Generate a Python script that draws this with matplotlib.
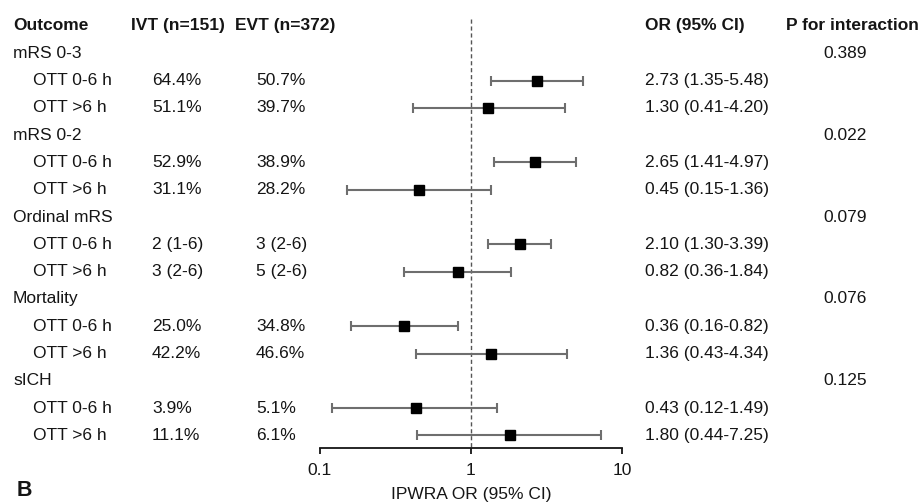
import matplotlib.pyplot as plt
import matplotlib.transforms as mtransforms

plt.rcParams['font.family'] = ['Liberation Sans', 'DejaVu Sans']

outcomes = ['mRS 0-3', 'mRS 0-2', 'Ordinal mRS', 'Mortality', 'sICH']
subgroups = ['OTT 0-6 h', 'OTT >6 h']
ivt_vals = ['64.4%', '51.1%', '52.9%', '31.1%', '2 (1-6)', '3 (2-6)',
            '25.0%', '42.2%', '3.9%', '11.1%']
evt_vals = ['50.7%', '39.7%', '38.9%', '28.2%', '3 (2-6)', '5 (2-6)',
            '34.8%', '46.6%', '5.1%', '6.1%']
or_est = [2.73, 1.30, 2.65, 0.45, 2.10, 0.82, 0.36, 1.36, 0.43, 1.80]
ci_low = [1.35, 0.41, 1.41, 0.15, 1.30, 0.36, 0.16, 0.43, 0.12, 0.44]
ci_high = [5.48, 4.20, 4.97, 1.36, 3.39, 1.84, 0.82, 4.34, 1.49, 7.25]
p_interaction = ['0.389', '0.022', '0.079', '0.076', '0.125']
xticks = [0.1, 1, 10]
xtick_labels = ['0.1', '1', '10']

W, H = 920, 504
TXT = '#151515'
FS = 12.5


def px(p):
    return p / W


def main():
    fig = plt.figure(figsize=(W / 100, H / 100), dpi=100)
    ax = fig.add_axes([px(320), 1 - 448 / H, px(622 - 320), 438 / H])
    ax.set_xscale('log')
    ax.set_xlim(0.1, 10)
    ax.set_ylim(15.46, -0.586)

    tr = mtransforms.blended_transform_factory(fig.transFigure, ax.transData)

    # header row
    kw = dict(transform=tr, fontsize=FS, fontweight='bold', color=TXT, va='center')
    ax.text(px(13), 0, 'Outcome', **kw)
    ax.text(px(131), 0, 'IVT (n=151)', **kw)
    ax.text(px(235), 0, 'EVT (n=372)', **kw)
    ax.text(px(645), 0, 'OR (95% CI)', **kw)
    ax.text(px(786), 0, 'P for interaction', **kw)

    kw = dict(transform=tr, fontsize=FS, color=TXT, va='center')
    rows = []
    for i, name in enumerate(outcomes):
        top = 1 + 3 * i
        ax.text(px(13), top, name, **kw)
        ax.text(px(845), top, p_interaction[i], ha='center', **kw)
        for j, sub in enumerate(subgroups):
            k = 2 * i + j
            r = top + 1 + j
            rows.append(r)
            ax.text(px(33), r, sub, **kw)
            ax.text(px(152), r, ivt_vals[k], **kw)
            ax.text(px(256), r, evt_vals[k], **kw)
            ax.text(px(645), r, f"{or_est[k]:.2f} ({ci_low[k]:.2f}-{ci_high[k]:.2f})", **kw)

    ax.vlines(1, -0.26, 15.46, colors='#555555', linestyles=(0, (3, 2)), lw=1)

    xerr = [[e - lo for e, lo in zip(or_est, ci_low)],
            [hi - e for e, hi in zip(or_est, ci_high)]]
    ax.errorbar(or_est, rows, xerr=xerr, fmt='none', ecolor='#6e6e6e',
                elinewidth=1.5, capsize=3.8, capthick=1.5, clip_on=False)
    ax.plot(or_est, rows, 's', color='black', ms=7.8, clip_on=False)

    for s in ['top', 'left', 'right']:
        ax.spines[s].set_visible(False)
    ax.spines['bottom'].set_linewidth(1.3)
    ax.spines['bottom'].set_color(TXT)
    ax.set_yticks([])
    ax.set_xticks(xticks)
    ax.set_xticklabels(xtick_labels)
    ax.minorticks_off()
    ax.tick_params(axis='x', direction='out', length=4, width=1.3,
                   labelsize=FS, pad=7, colors=TXT)

    fig.text(px(471), 1 - 495 / H, 'IPWRA OR (95% CI)', ha='center', va='center',
             fontsize=FS, color=TXT)
    fig.text(px(17), 1 - 491 / H, 'B', ha='left', va='center',
             fontsize=15.5, fontweight='bold', color=TXT)

    fig.savefig('out.png', dpi=100)


if __name__ == "__main__":
    main()
